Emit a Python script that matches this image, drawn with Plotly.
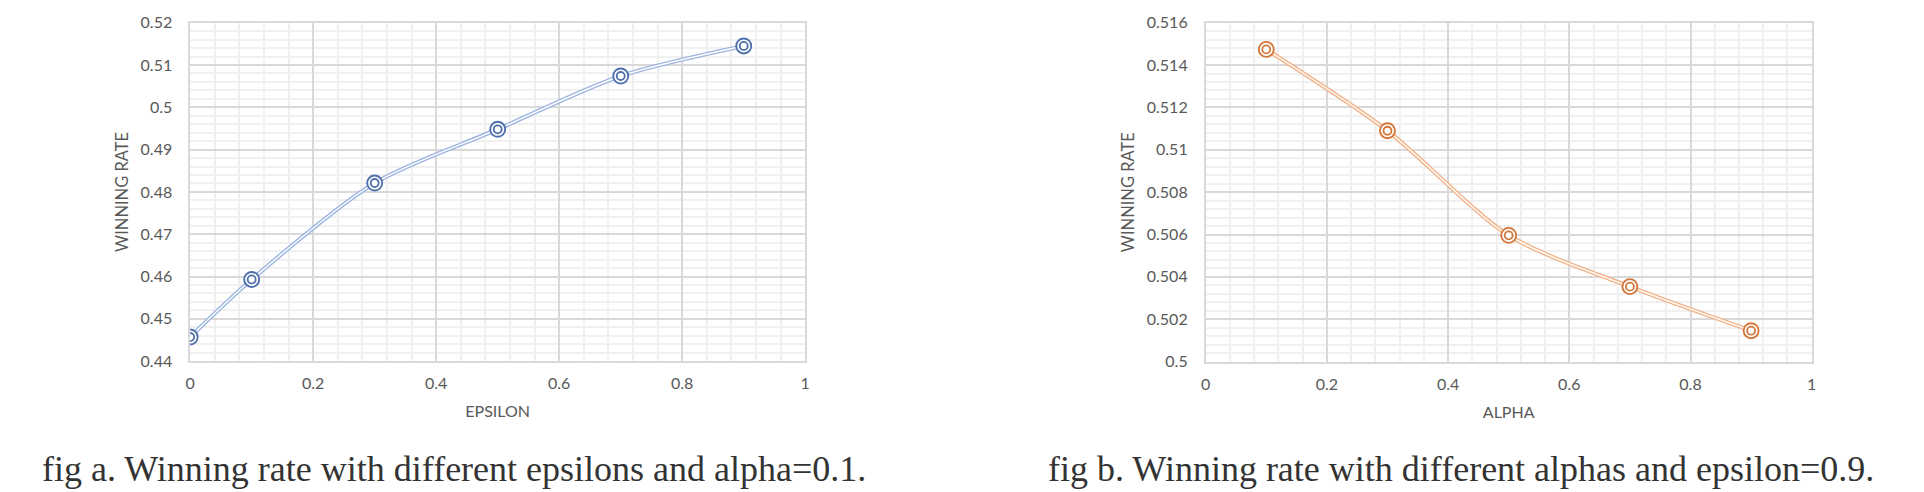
import plotly.graph_objects as go

# ---- data ----
epsilon = [0.0, 0.1, 0.3, 0.5, 0.7, 0.9]
win_eps = [0.4457, 0.4593, 0.4821, 0.4948, 0.5074, 0.5145]

alpha = [0.1, 0.3, 0.5, 0.7, 0.9]
win_alpha = [0.51474, 0.5109, 0.50596, 0.50354, 0.50146]

x_ticks = [0, 0.2, 0.4, 0.6, 0.8, 1]
x_tick_text = ["0", "0.2", "0.4", "0.6", "0.8", "1"]
ya_ticks = [0.44, 0.45, 0.46, 0.47, 0.48, 0.49, 0.50, 0.51, 0.52]
ya_tick_text = ["0.44", "0.45", "0.46", "0.47", "0.48", "0.49", "0.5", "0.51", "0.52"]
yb_ticks = [0.500, 0.502, 0.504, 0.506, 0.508, 0.510, 0.512, 0.514, 0.516]
yb_tick_text = ["0.5", "0.502", "0.504", "0.506", "0.508", "0.51", "0.512", "0.514", "0.516"]

caption_a = "fig a. Winning rate with different epsilons and alpha=0.1."
caption_b = "fig b. Winning rate with different alphas and epsilon=0.9."

W, H = 1924, 492
# measured mapping of page pixels to the captured picture
SX, OX = 0.9963, 3.55
SY, OY = 0.9568, 10.06


def px_x(Xi):
    return (Xi - OX) / SX / W


def px_y(Yi):
    return 1 - (Yi - OY) / SY / H


FONT = "Lato"
TXT = "#595959"
MAJ = "#D9D9D9"
MIN = "#F0F0F0"

fig = go.Figure()


def add_series(x, y, xa, ya, line_col, mk_col):
    # compound (double) line: colored wide line with thin white center
    fig.add_trace(go.Scatter(x=x, y=y, xaxis=xa, yaxis=ya, mode="lines",
                             line=dict(color=line_col, width=4.2, shape="spline", smoothing=0.8),
                             hoverinfo="skip", showlegend=False))
    fig.add_trace(go.Scatter(x=x, y=y, xaxis=xa, yaxis=ya, mode="lines",
                             line=dict(color="white", width=1.4, shape="spline", smoothing=0.8),
                             hoverinfo="skip", showlegend=False))
    # double-ring markers
    fig.add_trace(go.Scatter(x=x, y=y, xaxis=xa, yaxis=ya, mode="markers",
                             marker=dict(symbol="circle", size=15, color="white",
                                         line=dict(color=mk_col, width=1.9)),
                             showlegend=False))
    fig.add_trace(go.Scatter(x=x, y=y, xaxis=xa, yaxis=ya, mode="markers",
                             marker=dict(symbol="circle-open", size=8, color=mk_col,
                                         line=dict(color=mk_col, width=1.8)),
                             hoverinfo="skip", showlegend=False))


add_series(epsilon, win_eps, "x", "y", "#9DB5E0", "#4F6FAD")
add_series(alpha, win_alpha, "x2", "y2", "#F2B48A", "#D4773A")

tickfont = dict(family=FONT, size=16, color=TXT)


def xaxis(domain, anchor, title):
    return dict(domain=domain, anchor=anchor, range=[0, 1], tickvals=x_ticks, ticktext=x_tick_text,
                showgrid=True, gridcolor=MAJ, gridwidth=1.5, zeroline=False,
                showline=True, linecolor=MAJ, linewidth=1.5, mirror=True,
                ticks="", ticklabelstandoff=7, tickfont=tickfont,
                minor=dict(dtick=0.04, tick0=0, showgrid=True, gridcolor=MIN, gridwidth=1.5),
                title=dict(text=title, font=dict(family=FONT, size=16, color=TXT), standoff=15))


def yaxis(domain, anchor, rng, tv, tt, mdt):
    return dict(domain=domain, anchor=anchor, range=rng, tickvals=tv, ticktext=tt,
                showgrid=True, gridcolor=MAJ, gridwidth=1.5, zeroline=False,
                showline=True, linecolor=MAJ, linewidth=1.5, mirror=True,
                ticks="", ticklabelstandoff=13, tickfont=tickfont,
                minor=dict(dtick=mdt, tick0=rng[0], showgrid=True, gridcolor=MIN, gridwidth=1.5),
                title=dict(text="WINNING RATE", font=dict(family=FONT, size=16.5, color=TXT),
                           standoff=8))


capfont = dict(family="Liberation Serif", size=36, color="#333333")

fig.update_layout(
    width=W, height=H,
    margin=dict(l=0, r=0, t=0, b=0),
    paper_bgcolor="white", plot_bgcolor="white",
    xaxis=xaxis([px_x(189), px_x(805)], "y", "EPSILON"),
    yaxis=yaxis([px_y(359.5), px_y(22.7)], "x", [0.44, 0.52], ya_ticks, ya_tick_text, 0.002),
    xaxis2=xaxis([px_x(1206), px_x(1813)], "y2", "ALPHA"),
    yaxis2=yaxis([px_y(360), px_y(22.7)], "x2", [0.5, 0.516], yb_ticks, yb_tick_text, 0.0004),
    annotations=[
        dict(text=caption_a, x=px_x(868), y=px_y(467), xref="paper", yref="paper",
             xanchor="right", yanchor="middle", showarrow=False, font=capfont),
        dict(text=caption_b, x=px_x(1877), y=px_y(467), xref="paper", yref="paper",
             xanchor="right", yanchor="middle", showarrow=False, font=capfont),
    ],
)

post = (
    "document.documentElement.style.margin='0';"
    "document.documentElement.style.overflow='hidden';"
    "document.body.style.margin='0';"
    "document.body.style.overflow='hidden';"
)

fig.write_html("out.html", config={"displayModeBar": False}, post_script=post)
